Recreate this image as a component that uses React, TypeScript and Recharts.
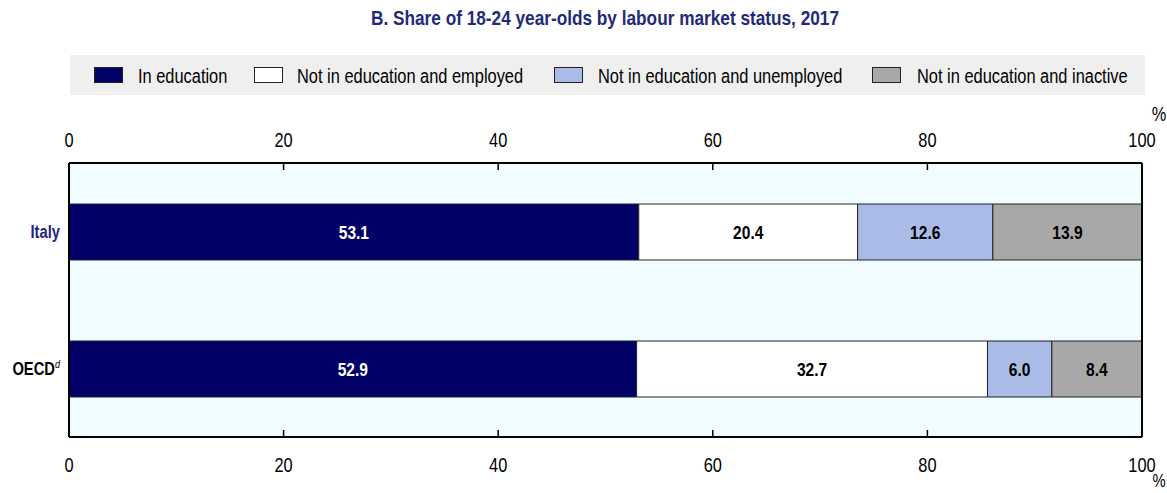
import React from "react";
import {
  ComposedChart,
  Bar,
  Line,
  XAxis,
  YAxis,
  CartesianGrid,
  LabelList,
  ReferenceLine,
} from "recharts";

const categories = ["Italy", "OECD"];
const inEducation = [53.1, 52.9];
const notEduEmployed = [20.4, 32.7];
const notEduUnemployed = [12.6, 6.0];
const notEduInactive = [13.9, 8.4];
const xTicks = [0, 20, 40, 60, 80, 100];

const seriesNames = [
  "In education",
  "Not in education and employed",
  "Not in education and unemployed",
  "Not in education and inactive",
];
const seriesKeys = ["edu", "emp", "unemp", "inact"];
const seriesColors = ["#000066", "#ffffff", "#a9bbe6", "#a8a8a8"];
const labelColors = ["#ffffff", "#000000", "#000000", "#000000"];

// Arial Narrow is not installed: use Liberation Sans squeezed horizontally
const FONT = "'Liberation Sans', Arial, sans-serif";
const NARROW = 0.82;

const data = categories.map((c, i) => ({
  name: c,
  edu: inEducation[i],
  emp: notEduEmployed[i],
  unemp: notEduUnemployed[i],
  inact: notEduInactive[i],
}));

const TOP_MARGIN = 16;
const BOTTOM_MARGIN = 20;

function NarrowText({ x, y, anchor = "middle", size = 20, weight = "normal", color = "#000", children }: any) {
  return (
    <text
      transform={`translate(${x},${y}) scale(${NARROW},1)`}
      x={0}
      y={0}
      textAnchor={anchor}
      fontSize={size}
      fontWeight={weight}
      fill={color}
      fontFamily={FONT}
    >
      {children}
    </text>
  );
}

function TopTick(props: any) {
  const { x, y, payload } = props;
  const axisY = y + TOP_MARGIN;
  return (
    <g>
      <line x1={x} x2={x} y1={axisY} y2={axisY + 7} stroke="#000" strokeWidth={1.5} />
      <NarrowText x={x} y={y}>{payload.value}</NarrowText>
      {payload.value === 100 && <NarrowText x={x + 17} y={y - 26}>%</NarrowText>}
    </g>
  );
}

function BottomTick(props: any) {
  const { x, y, payload } = props;
  const axisY = y - BOTTOM_MARGIN;
  return (
    <g>
      <line x1={x} x2={x} y1={axisY} y2={axisY - 7} stroke="#000" strokeWidth={1.5} />
      <NarrowText x={x} y={y + 15}>{payload.value}</NarrowText>
      {payload.value === 100 && <NarrowText x={x + 17} y={y + 30} size={18}>%</NarrowText>}
    </g>
  );
}

function CategoryTick(props: any) {
  const { x, y, payload } = props;
  const isItaly = payload.value === "Italy";
  return (
    <NarrowText x={x} y={y + 6} anchor="end" size={18} weight="bold" color={isItaly ? "#23237f" : "#000"}>
      {isItaly ? (
        payload.value
      ) : (
        <>
          <tspan>{payload.value}</tspan>
          <tspan dy={-7} fontSize={11} fontStyle="italic" fontWeight="normal">
            d
          </tspan>
        </>
      )}
    </NarrowText>
  );
}

function makeBarLabel(color: string) {
  return function BarLabel(props: any) {
    const { x, y, width, height, value } = props;
    return (
      <NarrowText x={x + width / 2} y={y + height / 2 + 7} size={19} weight="bold" color={color}>
        {Number(value).toFixed(1)}
      </NarrowText>
    );
  };
}

const swatchX = [94, 254, 554, 872];
const legendTextX = [138, 297, 598, 917];

export default function App() {
  return (
    <div
      style={{
        position: "absolute",
        left: 0,
        top: 0,
        width: 1167,
        height: 493,
        background: "#fff",
        fontFamily: FONT,
      }}
    >
      <div
        style={{
          position: "absolute",
          left: 0,
          top: 6,
          width: 1210,
          textAlign: "center",
          fontSize: 21,
          fontWeight: "bold",
          color: "#1f2a7a",
          transform: `scaleX(${NARROW})`,
          transformOrigin: "605px 0",
          whiteSpace: "nowrap",
        }}
      >
        B. Share of 18-24 year-olds by labour market status, 2017
      </div>

      <div
        style={{
          position: "absolute",
          left: 70,
          top: 55,
          width: 1075,
          height: 40,
          background: "#efefef",
        }}
      />
      {seriesNames.map((n, i) => (
        <React.Fragment key={n}>
          <span
            style={{
              position: "absolute",
              left: swatchX[i],
              top: 67,
              width: 27,
              height: 14,
              background: seriesColors[i],
              border: "1.5px solid #222",
            }}
          />
          <span
            style={{
              position: "absolute",
              left: legendTextX[i],
              top: 64,
              fontSize: 20,
              lineHeight: "24px",
              color: "#000",
              whiteSpace: "nowrap",
              transform: `scaleX(${NARROW})`,
              transformOrigin: "0 0",
            }}
          >
            {n}
          </span>
        </React.Fragment>
      ))}

      <div style={{ position: "absolute", left: 0, top: 0 }}>
        <ComposedChart
          width={1167}
          height={493}
          data={data}
          layout="vertical"
          margin={{ top: 133, right: 25, bottom: 26, left: 9 }}
        >
          <CartesianGrid
            xAxisId="b"
            horizontal={false}
            vertical={false}
            fill="#f0fcff"
            fillOpacity={1}
          />
          <XAxis
            xAxisId="t"
            orientation="top"
            type="number"
            domain={[0, 100]}
            ticks={xTicks}
            height={30}
            tickSize={0}
            tickLine={false}
            tickMargin={TOP_MARGIN}
            axisLine={{ stroke: "#000", strokeWidth: 2 }}
            tick={<TopTick />}
          />
          <XAxis
            xAxisId="b"
            orientation="bottom"
            type="number"
            domain={[0, 100]}
            ticks={xTicks}
            height={30}
            tickSize={0}
            tickLine={false}
            tickMargin={BOTTOM_MARGIN}
            axisLine={{ stroke: "#000", strokeWidth: 2 }}
            tick={<BottomTick />}
          />
          <YAxis
            type="category"
            dataKey="name"
            width={60}
            tickLine={false}
            tickSize={0}
            tickMargin={9}
            axisLine={{ stroke: "#000", strokeWidth: 2 }}
            tick={<CategoryTick />}
          />
          {seriesKeys.map((k, i) => (
            <Bar
              key={k}
              xAxisId="b"
              dataKey={k}
              name={seriesNames[i]}
              stackId="s"
              fill={seriesColors[i]}
              stroke="#222"
              strokeWidth={1}
              barSize={56}
              isAnimationActive={false}
            >
              <LabelList dataKey={k} content={makeBarLabel(labelColors[i])} />
            </Bar>
          ))}
          {/* invisible series so the top axis gets a scale */}
          <Line
            xAxisId="t"
            dataKey="edu"
            stroke="none"
            dot={false}
            activeDot={false}
            legendType="none"
            isAnimationActive={false}
          />
          <ReferenceLine xAxisId="b" x={100} stroke="#000" strokeWidth={2} />
        </ComposedChart>
      </div>
    </div>
  );
}
